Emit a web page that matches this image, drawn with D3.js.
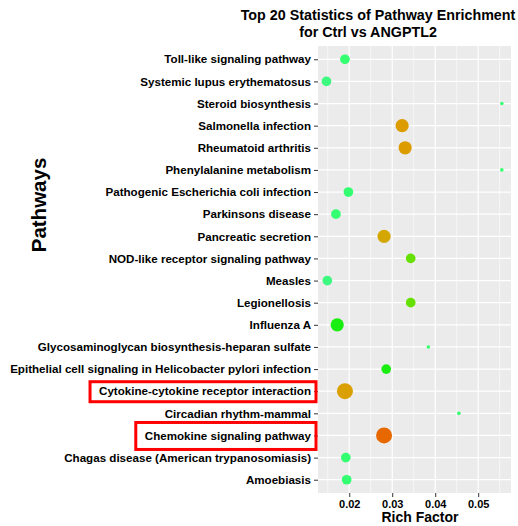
<!DOCTYPE html>
<html>
<head>
<meta charset="utf-8">
<script src="https://cdn.jsdelivr.net/npm/d3@7"></script>
<style>
  body { margin: 0; background: #fff; }
  svg text { font-family: "Liberation Sans", Arial, sans-serif; font-weight: bold; }
</style>
</head>
<body>
<svg id="chart" width="518" height="526"></svg>
<script>
// pathways, top row first
const pathways = [
  "Toll-like signaling pathway",
  "Systemic lupus erythematosus",
  "Steroid biosynthesis",
  "Salmonella infection",
  "Rheumatoid arthritis",
  "Phenylalanine metabolism",
  "Pathogenic Escherichia coli infection",
  "Parkinsons disease",
  "Pancreatic secretion",
  "NOD-like receptor signaling pathway",
  "Measles",
  "Legionellosis",
  "Influenza A",
  "Glycosaminoglycan biosynthesis-heparan sulfate",
  "Epithelial cell signaling in Helicobacter pylori infection",
  "Cytokine-cytokine receptor interaction",
  "Circadian rhythm-mammal",
  "Chemokine signaling pathway",
  "Chagas disease (American trypanosomiasis)",
  "Amoebiasis"
];
const richFactor = [0.0190, 0.0147, 0.0555, 0.0323, 0.0330, 0.0555, 0.0198, 0.0169, 0.0281, 0.0343,
                    0.0149, 0.0343, 0.0172, 0.0384, 0.0286, 0.0190, 0.0455, 0.0281, 0.0192, 0.0194];
const geneCount = [2, 2, 1, 3, 3, 1, 2, 2, 3, 2, 2, 2, 3, 1, 2, 4, 1, 4, 2, 2];
const qValue = [0.8, 0.85, 0.8, 0.2, 0.2, 0.8, 0.8, 0.8, 0.28, 0.5, 0.85, 0.5, 0.6, 0.8, 0.6, 0.22, 0.8, 0.05, 0.8, 0.8];
const xTicks = [0.02, 0.03, 0.04, 0.05];
const highlighted = ["Cytokine-cytokine receptor interaction", "Chemokine signaling pathway"];

const svg = d3.select("#chart");
const margin = {left: 318, right: 7, top: 46, bottom: 33};
const W = 518, H = 526;
const pw = W - margin.left - margin.right;
const ph = H - margin.top - margin.bottom;

const x = d3.scaleLinear().domain([0.01273, 0.05763]).range([margin.left, margin.left + pw]);
const y = d3.scalePoint().domain(pathways).range([margin.top, margin.top + ph]).padding(0.6);
const r = d3.scaleRadial().domain([1, 4]).range([1.8, 8]);
const color = d3.scaleLinear()
  .domain([0.05, 0.2, 0.3, 0.5, 0.6, 0.8, 0.9])
  .range(["#e86800", "#dc9c00", "#d2aa00", "#66e000", "#1aee10", "#33ff70", "#48f290"]);

// panel
svg.append("rect")
  .attr("x", margin.left).attr("y", margin.top)
  .attr("width", pw).attr("height", ph)
  .attr("fill", "#ebebeb");

// minor grid
const minor = [0.015, 0.025, 0.035, 0.045, 0.055];
svg.append("g").selectAll("line").data(minor).join("line")
  .attr("x1", d => x(d)).attr("x2", d => x(d))
  .attr("y1", margin.top).attr("y2", margin.top + ph)
  .attr("stroke", "#fff").attr("stroke-width", 0.6);

// major grid
svg.append("g").selectAll("line").data(xTicks).join("line")
  .attr("x1", d => x(d)).attr("x2", d => x(d))
  .attr("y1", margin.top).attr("y2", margin.top + ph)
  .attr("stroke", "#fff").attr("stroke-width", 1.2);
svg.append("g").selectAll("line").data(pathways).join("line")
  .attr("x1", margin.left).attr("x2", margin.left + pw)
  .attr("y1", d => y(d)).attr("y2", d => y(d))
  .attr("stroke", "#fff").attr("stroke-width", 1.2);

// points
svg.append("g").selectAll("circle").data(pathways).join("circle")
  .attr("cx", (d, i) => x(richFactor[i]))
  .attr("cy", d => y(d))
  .attr("r", (d, i) => r(geneCount[i]))
  .attr("fill", (d, i) => color(qValue[i]));

// axes
const xAxis = svg.append("g")
  .attr("transform", `translate(0,${margin.top + ph})`)
  .call(d3.axisBottom(x).tickValues(xTicks).tickFormat(d3.format(".2f")).tickSize(4).tickPadding(3));
const yAxis = svg.append("g")
  .attr("transform", `translate(${margin.left},0)`)
  .call(d3.axisLeft(y).tickSize(4).tickPadding(3));
[xAxis, yAxis].forEach(a => {
  a.select(".domain").remove();
  a.selectAll(".tick line").attr("stroke", "#333");
  a.selectAll("text").attr("fill", "#000").style("font-size", "11.6px");
});
xAxis.selectAll("text").style("font-size", "11px");

// red boxes round the highlighted labels
yAxis.selectAll(".tick").filter(d => highlighted.includes(d)).each(function(d) {
  const bb = this.querySelector("text").getBBox();
  const tall = d === "Chemokine signaling pathway" ? 27 : 20;
  d3.select(this).append("rect")
    .attr("x", bb.x - 9).attr("y", -tall / 2)
    .attr("width", -(bb.x - 9) - 2).attr("height", tall)
    .attr("fill", "none").attr("stroke", "#ff0000").attr("stroke-width", 3);
});

// titles
svg.append("text").attr("x", 378).attr("y", 20).attr("text-anchor", "middle")
  .style("font-size", "14.3px").text("Top 20 Statistics of Pathway Enrichment");
svg.append("text").attr("x", 368).attr("y", 37).attr("text-anchor", "middle")
  .style("font-size", "14.3px").text("for Ctrl vs ANGPTL2");
svg.append("text").attr("x", 420).attr("y", 522).attr("text-anchor", "middle")
  .style("font-size", "14px").text("Rich Factor");
svg.append("text").attr("transform", "translate(46,205) rotate(-90)")
  .attr("text-anchor", "middle").style("font-size", "20.5px").text("Pathways");
</script>
</body>
</html>
